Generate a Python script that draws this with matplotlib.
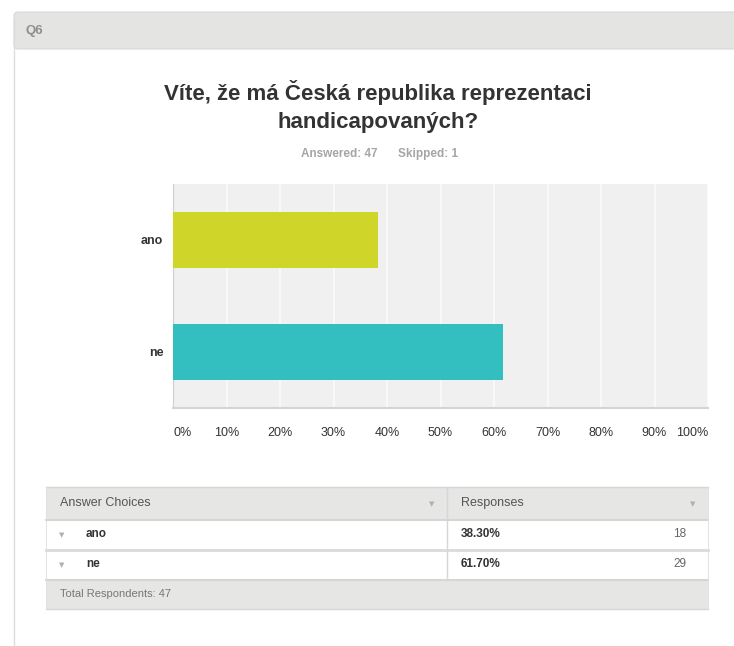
import matplotlib.pyplot as plt
from matplotlib.patches import Rectangle, FancyBboxPatch

plt.rcParams['font.family'] = ['Liberation Sans', 'DejaVu Sans']

# survey data
question = 'Q6'
title = 'Víte, že má Česká republika reprezentaci\nhandicapovaných?'
choices = ['ano', 'ne']
percents = [38.30, 61.70]
counts = [18, 29]
answered = 47
skipped = 1
bar_colors = ['#d0d52a', '#33bec0']
ticks = [0, 10, 20, 30, 40, 50, 60, 70, 80, 90, 100]

W, H = 734, 646
fig = plt.figure(figsize=(W / 100, H / 100), dpi=100)
fig.patch.set_facecolor('white')


def fx(x):
    return x / W


def fy(y):
    return 1 - y / H


def box(x0, y0, x1, y1, **kw):
    fig.patches.append(Rectangle((fx(x0), fy(y1)), fx(x1) - fx(x0), fy(y0) - fy(y1),
                                 transform=fig.transFigure, **kw))


def hline(x0, x1, y, color, lw=1):
    fig.add_artist(plt.Line2D([fx(x0), fx(x1)], [fy(y), fy(y)], transform=fig.transFigure,
                              color=color, lw=lw))


def vline(x, y0, y1, color, lw=1):
    fig.add_artist(plt.Line2D([fx(x), fx(x)], [fy(y0), fy(y1)], transform=fig.transFigure,
                              color=color, lw=lw))


def tri(x, y, color='#b0b0b0'):
    fig.text(fx(x), fy(y), '▼', fontsize=5, color=color, ha='center', va='center',
             family=['DejaVu Sans'])


# card frame and header strip
fig.patches.append(FancyBboxPatch((fx(14), fy(49)), fx(760), fy(12) - fy(49),
                                  boxstyle='round,pad=0,rounding_size=0.006',
                                  transform=fig.transFigure, facecolor='#e4e4e3',
                                  edgecolor='#d8d8d8', lw=0.8))
vline(13.5, 20, 646, '#dcdcdc')
fig.text(fx(25), fy(31), question, fontsize=9.5, color='#8f8f8f', fontweight='bold',
         ha='left', va='center')

fig.text(fx(378), fy(106.5), title, fontsize=16, fontweight='bold', color='#333333',
         ha='center', va='center', linespacing=1.4)
fig.text(fx(339), fy(154), f'Answered: {answered}', fontsize=8.5, fontweight='bold',
         color='#a5a5a5', ha='center', va='center')
fig.text(fx(428), fy(154), f'Skipped: {skipped}', fontsize=8.5, fontweight='bold',
         color='#a5a5a5', ha='center', va='center')

# bar chart
ax = fig.add_axes([fx(173), fy(408), fx(708) - fx(173), fy(184) - fy(408)])
ax.set_facecolor('#f0f0f0')
ax.barh(range(len(choices)), percents, height=0.5, color=bar_colors, zorder=3)
ax.set_xlim(0, 100)
ax.set_ylim(1.5, -0.5)
ax.set_xticks(ticks)
ax.set_xticklabels([f'{t}%' for t in ticks], fontsize=9, color='#333333')
for i, lab in enumerate(ax.get_xticklabels()):
    if i == 0:
        lab.set_ha('left')
    elif i == len(ticks) - 1:
        lab.set_ha('right')
ax.set_yticks(range(len(choices)))
ax.set_yticklabels(choices, fontsize=9, fontweight='bold', color='#333333')
ax.tick_params(length=0, pad=14)
ax.tick_params(axis='y', pad=7)
ax.grid(axis='x', color='#fafafa', lw=1.2, zorder=1)
for s in ['top', 'right']:
    ax.spines[s].set_visible(False)
ax.spines['left'].set_color('#cfcfcf')
ax.spines['bottom'].set_color('#d4d4d4')
ax.spines['bottom'].set_linewidth(1.5)

# summary table
box(46, 487, 708, 519, facecolor='#e6e6e5', edgecolor='none')
box(46, 580, 708, 609, facecolor='#e6e6e5', edgecolor='none')
hline(46, 708, 487, '#d6d6d6')
hline(46, 708, 519.5, '#d6d6d6', 1.5)
hline(46, 708, 549.5, '#dadada', 2)
hline(46, 708, 579.5, '#d6d6d6', 1.5)
hline(46, 708, 609, '#d6d6d6')
vline(447, 487, 580, '#d6d6d6')
vline(46, 487, 609, '#dedede', 0.6)
vline(708, 487, 609, '#dedede', 0.6)

fig.text(fx(60), fy(503), 'Answer Choices', fontsize=9, color='#555555', va='center')
fig.text(fx(461), fy(503), 'Responses', fontsize=9, color='#555555', va='center')
tri(432, 504)
tri(693, 504)

row_y = [534, 564]
for name, p, c, y in zip(choices, percents, counts, row_y):
    tri(62, y + 1)
    fig.text(fx(86), fy(y), name, fontsize=8.5, fontweight='bold', color='#333333', va='center')
    fig.text(fx(461), fy(y), f'{p:.2f}%', fontsize=8.5, fontweight='bold', color='#333333',
             va='center')
    fig.text(fx(686), fy(y), str(c), fontsize=8.5, color='#666666', ha='right', va='center')

fig.text(fx(60), fy(594), f'Total Respondents: {answered}', fontsize=8, color='#777777',
         va='center')

fig.savefig('out.png', dpi=100)
